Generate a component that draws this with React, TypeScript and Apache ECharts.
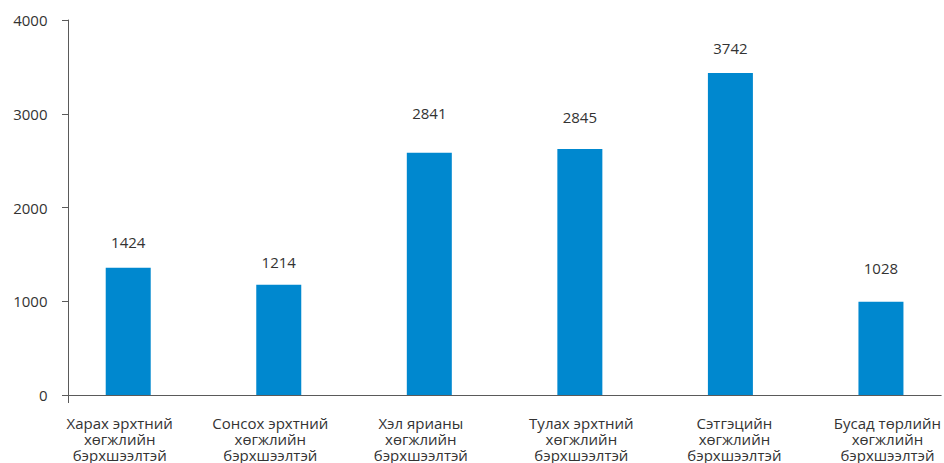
import React, { useEffect, useRef } from "react";
import * as echarts from "echarts";

const categories = [
  "Харах эрхтний\nхөгжлийн\nбэрхшээлтэй",
  "Сонсох эрхтний\nхөгжлийн\nбэрхшээлтэй",
  "Хэл ярианы\nхөгжлийн\nбэрхшээлтэй",
  "Тулах эрхтний\nхөгжлийн\nбэрхшээлтэй",
  "Сэтгэцийн\nхөгжлийн\nбэрхшээлтэй",
  "Бусад төрлийн\nхөгжлийн\nбэрхшээлтэй",
];
// bar heights as drawn in the picture
const barValues = [1358, 1177, 2583, 2625, 3435, 996];
// value labels printed above the bars
const labelTexts = ["1424", "1214", "2841", "2845", "3742", "1028"];
// per-bar label distance (px) above the bar, as placed in the picture
const labelLift = [18, 15, 32, 24, 17, 26];
// horizontal nudge (px) of each category label relative to its bar, as in the picture
const catLabelNudge = [-8.5, -8.5, -8.5, 1.5, 4, 6.5];

const yMin = 0;
const yMax = 4000;
const yStep = 1000;

const FONT = "'Open Sans', 'Noto Sans', sans-serif";
const AXIS_COLOR = "#5a5a5a";
const TEXT_COLOR = "#333333";
const BAR_COLOR = "#0088cf";

const GRID_LEFT = 68;
const CHART_W = 944;
const X_MIN = -0.4;
const X_MAX = categories.length - 0.6;

export default function App() {
  const ref = useRef<HTMLDivElement>(null);

  useEffect(() => {
    document.body.style.margin = "0";
    document.body.style.overflow = "hidden";
    if (!ref.current) return;
    const chart = echarts.init(ref.current, null, { renderer: "svg" });
    const pxPerUnit = (CHART_W - GRID_LEFT) / (X_MAX - X_MIN);
    const labelPositions = categories.map((_, i) => i + catLabelNudge[i] / pxPerUnit);
    chart.setOption({
      animation: false,
      textStyle: { fontFamily: FONT },
      grid: { left: GRID_LEFT, right: 0, top: 20, bottom: 67.5 },
      xAxis: {
        type: "value",
        min: X_MIN,
        max: X_MAX,
        axisLine: { show: true, onZero: false, lineStyle: { color: AXIS_COLOR, width: 1 } },
        axisTick: { show: true, customValues: [X_MIN], length: 8, inside: false, lineStyle: { color: AXIS_COLOR } },
        axisLabel: {
          customValues: labelPositions,
          formatter: (v: number) => categories[Math.round(v)] ?? "",
          margin: 20,
          fontSize: 15,
          lineHeight: 16,
          color: TEXT_COLOR,
          fontFamily: FONT,
          align: "center",
          showMinLabel: true,
          showMaxLabel: true,
        },
        splitLine: { show: false },
      },
      yAxis: {
        type: "value",
        min: yMin,
        max: yMax,
        interval: yStep,
        axisLine: { show: true, onZero: false, lineStyle: { color: AXIS_COLOR, width: 1 } },
        axisTick: { show: true, length: 6, inside: false, lineStyle: { color: AXIS_COLOR } },
        axisLabel: {
          margin: 20.5,
          fontSize: 15,
          color: TEXT_COLOR,
          fontFamily: FONT,
          formatter: (v: number) => String(v),
        },
        splitLine: { show: false },
      },
      series: [
        {
          type: "bar",
          barWidth: 45,
          itemStyle: { color: BAR_COLOR },
          data: barValues.map((v, i) => ({
            value: [i, v],
            label: {
              show: true,
              position: "top",
              distance: labelLift[i],
              formatter: () => labelTexts[i],
              fontSize: 15,
              color: TEXT_COLOR,
              fontFamily: FONT,
            },
          })),
        },
      ],
    });
    return () => chart.dispose();
  }, []);

  return <div ref={ref} style={{ width: 944, height: 463 }} />;
}
